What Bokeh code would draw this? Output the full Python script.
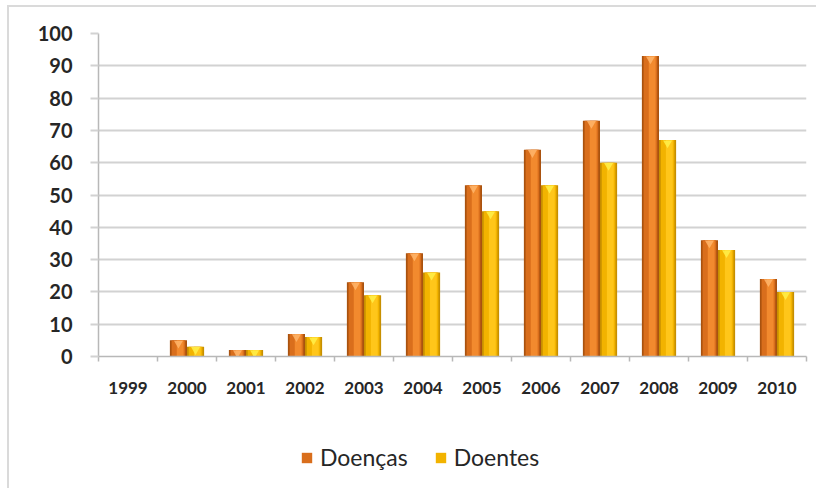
from bokeh.plotting import figure
from bokeh.layouts import column
from bokeh.models import (ColumnDataSource, Range1d, LinearAxis, FixedTicker, Legend, LegendItem)
from bokeh.transform import dodge
from bokeh.embed import file_html
from bokeh.resources import INLINE

# Yearly counts
years = ["1999", "2000", "2001", "2002", "2003", "2004",
         "2005", "2006", "2007", "2008", "2009", "2010"]
doencas = [0, 5, 2, 7, 23, 32, 53, 64, 73, 93, 36, 24]
doentes = [0, 3, 2, 6, 19, 26, 45, 53, 60, 67, 33, 20]
y_ticks = [0, 10, 20, 30, 40, 50, 60, 70, 80, 90, 100]

# one slot per year on a numeric axis, bars centred in their slot
slot_centers = [i + 0.5 for i in range(len(years))]
slot_edges = list(range(len(years) + 1))

src = ColumnDataSource(dict(x=slot_centers, doencas=doencas, doentes=doentes,
                            doencas_top=[v - 0.9 for v in doencas],
                            doentes_top=[v - 0.9 for v in doentes]))

GRID = "#d2d2d2"
AXIS = "#b8b8b8"
TEXT = "#262626"
FONT = "Lato"
EDGE = "2px solid #dadada"

chart = figure(x_range=Range1d(0, len(years)), y_range=Range1d(0, 100),
               frame_width=706, frame_height=321, output_backend="svg", toolbar_location=None,
               x_axis_location=None, margin=(5, 0, 0, 7),
               min_border_left=89, min_border_right=14, min_border_top=26, min_border_bottom=50)
chart.styles = {"border-top": EDGE, "border-left": EDGE}
chart.outline_line_color = None
chart.xgrid.visible = False

# y axis
chart.yaxis.ticker = FixedTicker(ticks=y_ticks)
chart.yaxis.axis_line_color = AXIS
chart.yaxis.axis_line_width = 1.5
chart.yaxis.major_tick_line_color = GRID
chart.yaxis.major_tick_line_width = 2
chart.yaxis.major_tick_out = 8
chart.yaxis.major_tick_in = 0
chart.yaxis.minor_tick_line_color = None
chart.yaxis.major_label_text_font = FONT
chart.yaxis.major_label_text_font_style = "bold"
chart.yaxis.major_label_text_font_size = "20px"
chart.yaxis.major_label_text_color = TEXT
chart.yaxis.major_label_standoff = 18
chart.ygrid.grid_line_color = GRID
chart.ygrid.grid_line_width = 2

# small ticks on the slot boundaries
tick_axis = LinearAxis(ticker=FixedTicker(ticks=slot_edges),
                       major_label_overrides={t: "" for t in slot_edges},
                       major_label_text_font_size="1px", major_label_standoff=0,
                       major_tick_out=5, major_tick_in=0, minor_tick_line_color=None,
                       axis_line_color=AXIS, axis_line_width=1.5,
                       major_tick_line_color=AXIS, major_tick_line_width=1.5)
chart.add_layout(tick_axis, "below")

# year labels in the middle of each slot
year_axis = LinearAxis(ticker=FixedTicker(ticks=slot_centers),
                       major_label_overrides=dict(zip(slot_centers, years)),
                       axis_line_color=None, major_tick_line_color=None,
                       minor_tick_line_color=None, major_tick_out=0, major_tick_in=0,
                       major_label_text_font=FONT, major_label_text_font_style="bold",
                       major_label_text_font_size="17px", major_label_text_color=TEXT,
                       major_label_standoff=20)
chart.add_layout(year_axis, "below")

# strip underneath that carries the legend
key = figure(x_range=Range1d(0, 1), y_range=Range1d(1000, 1001),
             frame_width=809, frame_height=90, output_backend="svg", toolbar_location=None,
             x_axis_location=None, y_axis_location=None, margin=(0, 0, 0, 7),
             min_border_left=0, min_border_right=0, min_border_top=0, min_border_bottom=0)
key.styles = {"border-left": EDGE}
key.outline_line_color = None
key.xgrid.visible = False
key.ygrid.visible = False

W = 0.29
series = [
    ("doencas", "doencas_top", -0.145, "#a9520f", "#d96e1c", "#f28a2e", "#ffb56b"),
    ("doentes", "doentes_top", 0.145, "#c78f00", "#f2b300", "#ffc61a", "#fff04a"),
]
legend_items = []
labels = {"doencas": "Doenças", "doentes": "Doentes"}
for field, top_field, off, dark, mid, light, chevron in series:
    x = dodge("x", off)
    chart.vbar(x=x, top=field, width=W, source=src, fill_color=dark, line_color=None)
    chart.vbar(x=x, top=field, width=W * 0.8, source=src, fill_color=mid, line_color=None)
    chart.vbar(x=dodge("x", off + 0.03), top=field, width=W * 0.4,
               source=src, fill_color=light, line_color=None)
    chart.scatter(x=x, y=top_field, marker="inverted_triangle", size=9, source=src,
                  fill_color=chevron, line_color=None, fill_alpha=0.85)
    # same series in the legend strip (its ranges keep the bars out of view)
    swatch = key.vbar(x=x, top=field, width=W, source=src, fill_color=mid, line_color=None)
    legend_items.append(LegendItem(label=labels[field], renderers=[swatch]))

legend = Legend(items=legend_items, orientation="horizontal", location=(291, 23),
                label_text_font=FONT, label_text_font_size="23px", label_text_color=TEXT,
                glyph_width=13, glyph_height=13, label_standoff=7, spacing=26,
                border_line_color=None, background_fill_alpha=0, margin=0, padding=0)
key.add_layout(legend, "center")

p = column(chart, key, spacing=0)

open("out.html", "w").write(file_html(p, INLINE))
